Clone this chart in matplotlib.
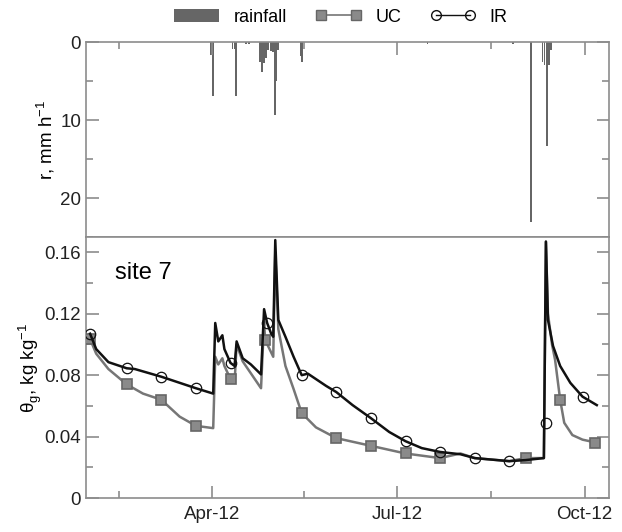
import pandas as pd
import matplotlib
matplotlib.use('Agg')
import matplotlib.pyplot as plt
import matplotlib.dates as mdates
from matplotlib.lines import Line2D
from matplotlib.patches import Patch
from matplotlib.ticker import FixedLocator

plt.rcParams['font.family'] = ['Liberation Sans', 'DejaVu Sans']
plt.rcParams['mathtext.fontset'] = 'custom'
plt.rcParams['mathtext.rm'] = 'Liberation Sans'

# rainfall intensity (mm/h)
rain_dates = ['2012-03-31 12:00', '2012-04-01 12:00', '2012-04-11', '2012-04-12', '2012-04-12 20:00',
              '2012-04-17 16:00', '2012-04-19', '2012-04-24 14:00', '2012-04-25 14:00', '2012-04-26 14:00',
              '2012-04-27 14:00', '2012-04-28 12:00', '2012-04-30', '2012-05-01', '2012-05-02',
              '2012-05-02 12:00', '2012-05-03 12:00', '2012-05-14 12:00', '2012-05-15 08:00',
              '2012-07-15 19:00', '2012-08-27', '2012-09-04 19:00', '2012-09-10 08:00', '2012-09-11 08:00',
              '2012-09-12 08:00', '2012-09-13 08:00', '2012-09-14 08:00']
rain_vals = [1.7, 6.9, 0.9, 0.9, 6.9,
             0.3, 0.3, 2.5, 3.8, 2.7,
             2.0, 1.0, 1.1, 1.3, 9.3,
             5.0, 1.0, 1.8, 2.5,
             0.3, 0.3, 23.1, 2.5, 3.0,
             13.3, 3.0, 1.0]

# gravimetric water content, IR
ir_dates = ['2012-02-01', '2012-02-04', '2012-02-10', '2012-02-19', '2012-02-23', '2012-03-07', '2012-03-24',
            '2012-04-01 12:00', '2012-04-02 12:00', '2012-04-04', '2012-04-06', '2012-04-07', '2012-04-10',
            '2012-04-12', '2012-04-13', '2012-04-16', '2012-04-20', '2012-04-25', '2012-04-26 12:00',
            '2012-04-28', '2012-04-30', '2012-05-01', '2012-05-02', '2012-05-03 12:00', '2012-05-07',
            '2012-05-11', '2012-05-15', '2012-05-18', '2012-05-27', '2012-06-01', '2012-06-09', '2012-06-18',
            '2012-06-27', '2012-07-05', '2012-07-13', '2012-07-22', '2012-08-01', '2012-08-08', '2012-08-25',
            '2012-09-02', '2012-09-11', '2012-09-12', '2012-09-13', '2012-09-15 12:00', '2012-09-19',
            '2012-09-24', '2012-09-30', '2012-10-07']
ir_vals = [0.107, 0.097, 0.0885, 0.0845, 0.084, 0.079, 0.0715,
           0.068, 0.114, 0.102, 0.106, 0.097, 0.088,
           0.086, 0.102, 0.091, 0.087, 0.0805, 0.123,
           0.114, 0.107, 0.105, 0.168, 0.116, 0.105,
           0.092, 0.080, 0.081, 0.073, 0.069, 0.0605, 0.052,
           0.043, 0.037, 0.0325, 0.030, 0.0285, 0.026, 0.024,
           0.0247, 0.026, 0.167, 0.116, 0.099, 0.086,
           0.075, 0.066, 0.0605]
ir_mk_dates = ['2012-02-01', '2012-02-19', '2012-03-07', '2012-03-24', '2012-04-10', '2012-04-28',
               '2012-05-15', '2012-06-01', '2012-06-18', '2012-07-05', '2012-07-22', '2012-08-08',
               '2012-08-25', '2012-09-12', '2012-09-30']
ir_mk_vals = [0.107, 0.0845, 0.079, 0.0715, 0.088, 0.114,
              0.080, 0.069, 0.052, 0.037, 0.030, 0.026,
              0.024, 0.049, 0.066]

# gravimetric water content, UC
uc_dates = ['2012-02-01', '2012-02-04', '2012-02-10', '2012-02-19', '2012-02-27', '2012-03-07', '2012-03-16',
            '2012-03-24', '2012-04-01 12:00', '2012-04-02 12:00', '2012-04-04', '2012-04-06', '2012-04-07',
            '2012-04-10', '2012-04-12', '2012-04-13', '2012-04-16', '2012-04-25', '2012-04-26 12:00',
            '2012-04-27', '2012-05-01', '2012-05-02', '2012-05-03 12:00', '2012-05-07', '2012-05-11',
            '2012-05-15', '2012-05-22', '2012-06-01', '2012-06-18', '2012-07-05', '2012-07-22', '2012-08-01',
            '2012-08-08', '2012-08-25', '2012-09-02', '2012-09-11', '2012-09-12', '2012-09-13', '2012-09-15',
            '2012-09-16 12:00', '2012-09-19', '2012-09-21', '2012-09-25', '2012-09-30', '2012-10-07']
uc_vals = [0.1035, 0.094, 0.084, 0.074, 0.068, 0.064, 0.053,
           0.047, 0.0455, 0.092, 0.087, 0.091, 0.086,
           0.0775, 0.075, 0.100, 0.089, 0.0715, 0.115,
           0.103, 0.092, 0.160, 0.110, 0.086, 0.071,
           0.0553, 0.046, 0.039, 0.034, 0.029, 0.026, 0.029,
           0.026, 0.024, 0.026, 0.026, 0.167, 0.120, 0.100,
           0.090, 0.064, 0.049, 0.041, 0.038, 0.036]
uc_mk_dates = ['2012-02-01', '2012-02-19', '2012-03-07', '2012-03-24', '2012-04-10', '2012-04-27',
               '2012-05-15', '2012-06-01', '2012-06-18', '2012-07-05', '2012-07-22', '2012-09-02',
               '2012-09-19', '2012-10-06']
uc_mk_vals = [0.1035, 0.074, 0.064, 0.047, 0.0775, 0.103,
              0.0553, 0.039, 0.034, 0.029, 0.026, 0.026,
              0.064, 0.036]

major_dates = ['2012-04-01', '2012-07-01', '2012-10-01']
minor_dates = ['2012-02-15', '2012-05-16', '2012-08-16']
x_range = ['2012-01-30', '2012-10-13']


def to_dt(lst):
    return pd.to_datetime(lst, format='ISO8601')


spine_col = '#8c8c8c'
uc_col = '#767676'
ir_col = '#111111'

fig = plt.figure(figsize=(6.22, 5.32), dpi=100)
ax1 = fig.add_axes([0.1383, 0.5545, 0.8408, 0.3665])
ax2 = fig.add_axes([0.1383, 0.0639, 0.8408, 0.4906])

# rainfall
ax1.bar(to_dt(rain_dates), rain_vals, width=0.9, color='#666666', linewidth=0)
ax1.set_ylim(25, 0)
ax1.set_ylabel('r, mm h$^\\mathregular{-1}$', fontsize=13.5, labelpad=2)
ax1.yaxis.set_major_locator(FixedLocator([0, 10, 20]))
ax1.yaxis.set_minor_locator(FixedLocator([5, 15, 25]))

# water content
ax2.plot(to_dt(uc_dates), uc_vals, color=uc_col, lw=1.8, zorder=2)
ax2.plot(to_dt(uc_mk_dates), uc_mk_vals, ls='none', marker='s', ms=7,
         mfc='#8a8a8a', mec='#666666', mew=1.2, zorder=3)
ax2.plot(to_dt(ir_dates), ir_vals, color=ir_col, lw=1.8, zorder=4)
ax2.plot(to_dt(ir_mk_dates), ir_mk_vals, ls='none', marker='o', ms=7.5,
         mfc='none', mec=ir_col, mew=0.9, zorder=5)
ax2.set_ylim(0, 0.17)
ax2.yaxis.set_major_locator(FixedLocator([0, 0.04, 0.08, 0.12, 0.16]))
ax2.yaxis.set_minor_locator(FixedLocator([0.02, 0.06, 0.10, 0.14]))
ax2.set_yticklabels(['0', '0.04', '0.08', '0.12', '0.16'])
ax2.set_ylabel('θ$_\\mathregular{g}$, kg kg$^\\mathregular{-1}$', fontsize=13.5, labelpad=0)
ax2.text(0.055, 0.839, 'site 7', transform=ax2.transAxes, fontsize=17, va='baseline')

for ax in (ax1, ax2):
    ax.set_xlim(to_dt(x_range))
    ax.xaxis.set_major_locator(FixedLocator(mdates.date2num(to_dt(major_dates))))
    ax.xaxis.set_minor_locator(FixedLocator(mdates.date2num(to_dt(minor_dates))))
    ax.xaxis.set_major_formatter(mdates.DateFormatter('%b-%y'))
    for s in ax.spines.values():
        s.set_color(spine_col)
        s.set_linewidth(1.2)
    ax.tick_params(which='both', direction='in', color=spine_col, width=1.2,
                   labelsize=13.5, labelcolor='#222222', left=True, right=True)
    ax.tick_params(which='major', length=9)
    ax.tick_params(which='minor', length=5)

ax1.tick_params(axis='x', which='both', top=True, bottom=False, labelbottom=False)
ax2.tick_params(axis='x', which='both', top=False, bottom=True, pad=6)

handles = [Patch(facecolor='#666666', edgecolor='none'),
           Line2D([], [], color=uc_col, lw=1.2, marker='s', ms=7, mfc='#8a8a8a', mec='#666666'),
           Line2D([], [], color=ir_col, lw=1.0, marker='o', ms=7, mfc='none', mec=ir_col)]
fig.legend(handles, ['rainfall', 'UC', 'IR'], loc='center', bbox_to_anchor=(0.548, 0.968), ncol=3,
           frameon=False, fontsize=13, numpoints=2, handlelength=2.5, handletextpad=0.8,
           columnspacing=1.6)

fig.savefig('out.png', dpi=100)
